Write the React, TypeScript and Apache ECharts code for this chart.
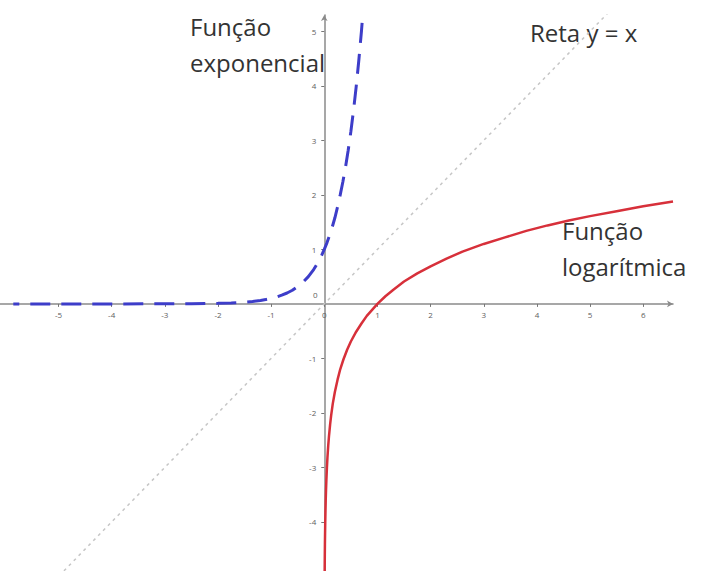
import React, { useEffect, useRef } from "react";
import * as echarts from "echarts";

// Exponential curve points [x, y]
const expPoints: [number, number][] = [
  [-5.85, 0.0], [-4, 0.0001], [-3, 0.001], [-2.5, 0.003], [-2, 0.01], [-1.75, 0.018],
  [-1.5, 0.032], [-1.35, 0.045], [-1.2, 0.063], [-1.1, 0.079], [-1, 0.1], [-0.9, 0.126],
  [-0.8, 0.16], [-0.7, 0.2], [-0.6, 0.25], [-0.5, 0.32], [-0.4, 0.4], [-0.3, 0.5],
  [-0.2, 0.63], [-0.1, 0.79], [-0.05, 0.89], [0, 1], [0.05, 1.12], [0.1, 1.26],
  [0.15, 1.41], [0.2, 1.58], [0.25, 1.78], [0.3, 2.0], [0.35, 2.24], [0.4, 2.51],
  [0.45, 2.82], [0.5, 3.16], [0.55, 3.55], [0.6, 3.98], [0.65, 4.47], [0.7, 5.01],
  [0.75, 5.62],
];

// Logarithmic curve points [x, y]
const logPoints: [number, number][] = [
  [0.006, -5.1], [0.007, -4.96], [0.008, -4.83], [0.01, -4.6], [0.012, -4.42],
  [0.015, -4.2], [0.018, -4.02], [0.022, -3.82], [0.027, -3.61], [0.033, -3.41],
  [0.04, -3.22], [0.05, -3.0], [0.06, -2.81], [0.075, -2.59], [0.09, -2.41],
  [0.11, -2.21], [0.13, -2.04], [0.16, -1.83], [0.2, -1.61], [0.25, -1.39],
  [0.3, -1.2], [0.36, -1.02], [0.43, -0.84], [0.5, -0.69], [0.6, -0.51],
  [0.7, -0.36], [0.8, -0.22], [0.9, -0.11], [1, 0], [1.15, 0.14], [1.3, 0.26],
  [1.5, 0.41], [1.75, 0.56], [2, 0.69], [2.3, 0.83], [2.6, 0.96], [3, 1.1],
  [3.4, 1.22], [3.8, 1.34], [4.2, 1.44], [4.6, 1.53], [5, 1.61], [5.5, 1.7],
  [6, 1.79], [6.56, 1.88],
];

// Identity line y = x
const identityPoints: [number, number][] = [
  [-6, -6], [6.5, 6.5],
];

const xTickValues = [-5, -4, -3, -2, -1, 0, 1, 2, 3, 4, 5, 6];
const yTickValues = [-4, -3, -2, -1, 1, 2, 3, 4, 5];

const X_MIN = -6.1;
const X_MAX = 6.56;
const Y_MIN = -4.9;
const Y_MAX = 5.3;

const W = 707;
const H = 571;
const GRID = { left: 0, right: 34, top: 15, bottom: 0 };

const textFont = '"Open Sans", "Noto Sans", sans-serif';

export default function App() {
  const ref = useRef<HTMLDivElement>(null);

  useEffect(() => {
    if (!ref.current) return;
    const chart = echarts.init(ref.current, null, { renderer: "svg" });
    const tickLabel = { fontSize: 8, color: "#5e5e5e", fontFamily: textFont };

    // Shift each axis from the grid edge to the other axis' zero line
    const gridW = W - GRID.left - GRID.right;
    const gridH = H - GRID.top - GRID.bottom;
    const xZeroPx = ((0 - X_MIN) / (X_MAX - X_MIN)) * gridW;
    const yZeroFromBottom = ((0 - Y_MIN) / (Y_MAX - Y_MIN)) * gridH;

    chart.setOption({
      animation: false,
      backgroundColor: "#ffffff",
      grid: { ...GRID, outerBoundsMode: "none", containLabel: false },
      xAxis: {
        type: "value",
        min: X_MIN,
        max: X_MAX,
        position: "bottom",
        offset: -yZeroFromBottom,
        splitLine: { show: false },
        axisLine: {
          onZero: false,
          lineStyle: { color: "#8a8a8a", width: 1.5 },
          symbol: ["none", "arrow"],
          symbolSize: [5, 6],
        },
        axisTick: { show: true, length: 3, customValues: xTickValues, lineStyle: { color: "#777" } },
        axisLabel: { ...tickLabel, margin: 7, customValues: xTickValues },
      },
      yAxis: {
        type: "value",
        min: Y_MIN,
        max: Y_MAX,
        position: "left",
        offset: -xZeroPx,
        splitLine: { show: false },
        axisLine: {
          onZero: false,
          lineStyle: { color: "#8a8a8a", width: 1.5 },
          symbol: ["none", "arrow"],
          symbolSize: [5, 6],
        },
        axisTick: { show: true, length: 3, customValues: yTickValues, lineStyle: { color: "#777" } },
        axisLabel: { ...tickLabel, margin: 8, customValues: yTickValues },
      },
      series: [
        {
          type: "line",
          data: identityPoints,
          showSymbol: false,
          symbol: "none",
          lineStyle: { color: "#c6c6c6", width: 1.5, type: [3, 4] },
          z: 1,
        },
        {
          type: "line",
          data: expPoints,
          showSymbol: false,
          symbol: "none",
          lineStyle: { color: "#3d3dc9", width: 3, type: [20, 11], dashOffset: 14 },
          z: 3,
        },
        {
          type: "line",
          data: logPoints,
          showSymbol: false,
          symbol: "none",
          lineStyle: { color: "#d7303a", width: 2.5 },
          z: 3,
        },
      ],
      graphic: [
        { type: "text", left: 313, top: 290, style: { text: "0", fontSize: 8, fill: "#5e5e5e", fontFamily: textFont } },
        {
          type: "text",
          left: 190,
          top: 8,
          style: { text: "Função\nexponencial", fontSize: 24, lineHeight: 36, fill: "#333", fontFamily: textFont },
        },
        {
          type: "text",
          left: 530,
          top: 20,
          style: { text: "Reta y = x", fontSize: 24, fill: "#333", fontFamily: textFont },
        },
        {
          type: "text",
          left: 562,
          top: 212,
          style: { text: "Função\nlogarítmica", fontSize: 24, lineHeight: 36, fill: "#333", fontFamily: textFont },
        },
      ],
    });
    return () => chart.dispose();
  }, []);

  return (
    <div
      ref={ref}
      style={{ position: "fixed", left: 0, top: 0, width: W, height: H, background: "#fff" }}
    />
  );
}
